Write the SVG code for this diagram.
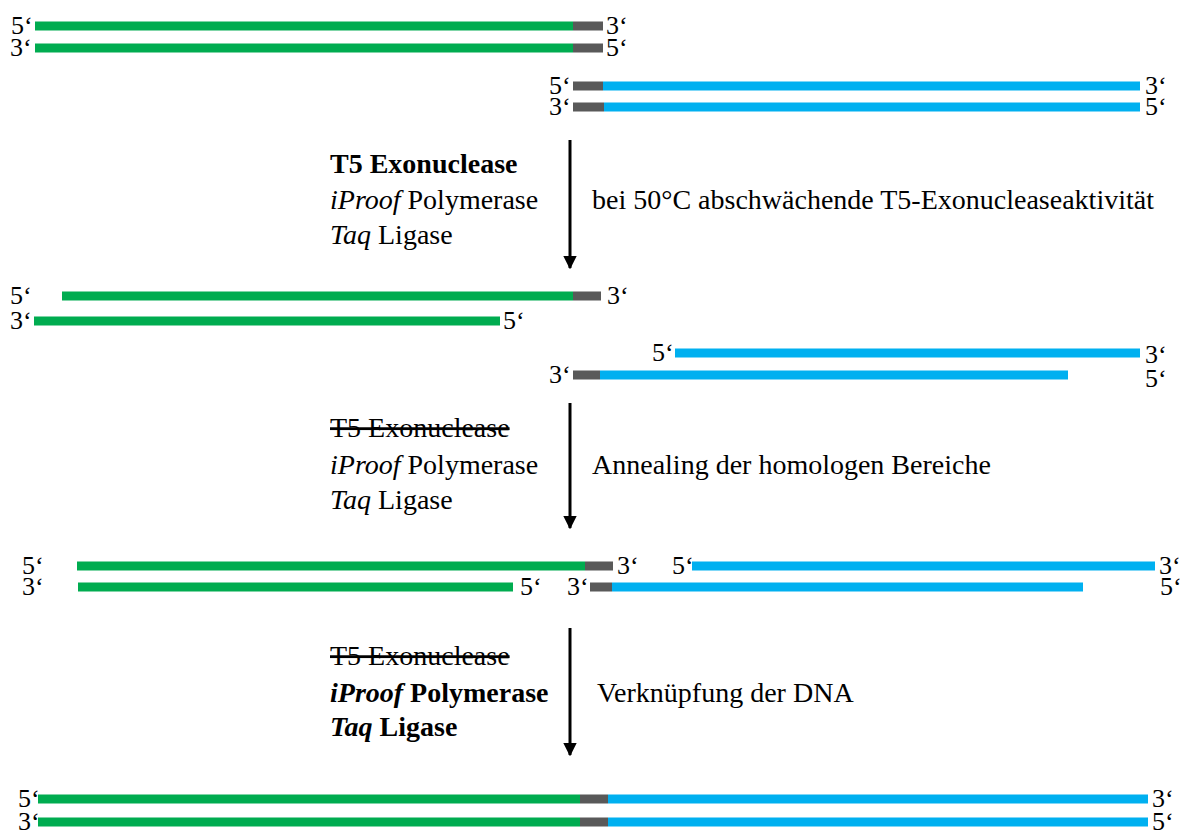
<svg xmlns="http://www.w3.org/2000/svg" width="1189" height="832" viewBox="0 0 1189 832">
<style>
text{font-family:"Liberation Serif","Times New Roman",serif;font-size:28px;fill:#000}
.e{font-size:26px}
.g{fill:#00AC50}.b{fill:#00B0F0}.k{fill:#595959}
.bold{font-weight:bold}
.strike{text-decoration:line-through}
</style>
<defs>
<marker id="ah" viewBox="0 0 10 10" refX="9" refY="5" markerWidth="4.5" markerHeight="4.5" orient="auto" markerUnits="strokeWidth">
<path d="M0,0 L10,5 L0,10 z" fill="#000"/>
</marker>
</defs>
<rect width="1189" height="832" fill="#fff"/>

<g id="step1">
<rect class="g" x="35" y="21.5" width="538" height="9"/><rect class="k" x="573" y="21.5" width="30" height="9"/>
<rect class="g" x="35" y="43.5" width="538" height="9"/><rect class="k" x="573" y="43.5" width="30" height="9"/>
<rect class="k" x="573" y="81.5" width="30" height="9"/><rect class="b" x="603" y="81.5" width="537" height="9"/>
<rect class="k" x="573" y="102.5" width="31" height="9"/><rect class="b" x="604" y="102.5" width="536" height="9"/>
<text class="e" x="11" y="34">5‘</text><text class="e" x="606" y="34">3‘</text>
<text class="e" x="10" y="56">3‘</text><text class="e" x="606" y="56">5‘</text>
<text class="e" x="549" y="94">5‘</text><text class="e" x="1145" y="94">3‘</text>
<text class="e" x="549" y="115">3‘</text><text class="e" x="1145" y="115">5‘</text>
</g>

<g id="step2">
<rect class="g" x="62" y="291.5" width="511" height="9"/><rect class="k" x="573" y="291.5" width="28" height="9"/>
<rect class="g" x="34" y="316.5" width="466" height="9"/>
<rect class="b" x="675" y="348.5" width="465" height="9"/>
<rect class="k" x="573" y="370.5" width="27" height="9"/><rect class="b" x="600" y="370.5" width="468" height="9"/>
<text class="e" x="10" y="304">5‘</text><text class="e" x="607" y="304">3‘</text>
<text class="e" x="10" y="329">3‘</text><text class="e" x="503" y="329">5‘</text>
<text class="e" x="652" y="361">5‘</text><text class="e" x="1145" y="363">3‘</text>
<text class="e" x="549" y="383">3‘</text><text class="e" x="1145" y="387">5‘</text>
</g>

<g id="step3">
<rect class="g" x="77" y="561.5" width="508" height="9"/><rect class="k" x="585" y="561.5" width="28" height="9"/>
<rect class="g" x="78" y="582.5" width="435" height="9"/>
<rect class="b" x="692" y="561.5" width="463" height="9"/>
<rect class="k" x="590" y="582.5" width="22" height="9"/><rect class="b" x="612" y="582.5" width="471" height="9"/>
<text class="e" x="22" y="574">5‘</text><text class="e" x="617" y="574">3‘</text>
<text class="e" x="22" y="595">3‘</text><text class="e" x="520" y="595">5‘</text>
<text class="e" x="672" y="574">5‘</text><text class="e" x="1159" y="574">3‘</text>
<text class="e" x="567" y="595">3‘</text><text class="e" x="1160" y="595">5‘</text>
</g>

<g id="step4">
<rect class="g" x="38" y="794.5" width="542" height="9"/><rect class="k" x="580" y="794.5" width="28" height="9"/><rect class="b" x="608" y="794.5" width="540" height="9"/>
<rect class="g" x="38" y="817.5" width="542" height="9"/><rect class="k" x="580" y="817.5" width="28" height="9"/><rect class="b" x="608" y="817.5" width="540" height="9"/>
<text class="e" x="18" y="807">5‘</text><text class="e" x="1152" y="807">3‘</text>
<text class="e" x="18" y="830">3‘</text><text class="e" x="1152" y="830">5‘</text>
</g>

<g id="enzymes1">
<text x="330" y="173" class="bold">T5 Exonuclease</text>
<text x="330" y="209"><tspan font-style="italic">iProof</tspan> Polymerase</text>
<text x="330" y="244"><tspan font-style="italic">Taq</tspan> Ligase</text>
<text x="592" y="209">bei 50°C  abschwächende T5-Exonucleaseaktivität</text>
</g>

<g id="enzymes2">
<text x="330" y="437" class="strike">T5 Exonuclease</text>
<text x="330" y="474"><tspan font-style="italic">iProof</tspan> Polymerase</text>
<text x="330" y="509"><tspan font-style="italic">Taq</tspan> Ligase</text>
<text x="592" y="474">Annealing der homologen Bereiche</text>
</g>

<g id="enzymes3">
<text x="330" y="665" class="strike">T5 Exonuclease</text>
<text x="330" y="702" class="bold"><tspan font-style="italic">iProof</tspan> Polymerase</text>
<text x="330" y="736" class="bold"><tspan font-style="italic">Taq</tspan> Ligase</text>
<text x="597" y="702">Verknüpfung der DNA</text>
</g>

<g id="connectors" stroke="#000" stroke-width="3" fill="none">
<line x1="570" y1="140" x2="570" y2="268" marker-end="url(#ah)"/>
<line x1="570" y1="403" x2="570" y2="528" marker-end="url(#ah)"/>
<line x1="570" y1="628" x2="570" y2="755" marker-end="url(#ah)"/>
</g>
</svg>
